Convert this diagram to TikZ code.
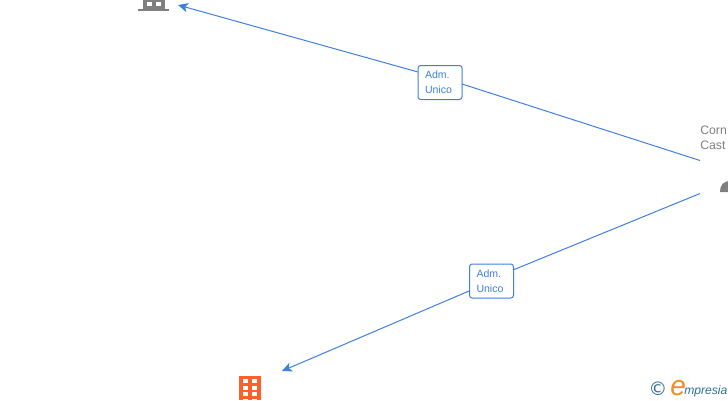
\documentclass[tikz,border=0pt]{standalone}
\usepackage{fontspec}
\setmainfont{Liberation Sans}
\newfontfamily\logofont{DejaVu Sans}
\usetikzlibrary{arrows.meta}
\definecolor{linkblue}{HTML}{3F7FE0}
\definecolor{icongray}{HTML}{7F7F7F}
\definecolor{iconorange}{HTML}{FF5F2B}
\definecolor{logoteal}{HTML}{2F6F8F}
\definecolor{logoorange}{HTML}{F58A1F}
\tikzset{
  x=0.75pt,y=-0.75pt,
  rolebox/.style={draw=linkblue,rounded corners=2pt,fill=white,line width=0.75pt,text=linkblue,
    font=\fontsize{7.9pt}{11.2pt}\selectfont,align=left,minimum width=33pt,minimum height=25.5pt,inner sep=0pt,
    text width=22.5pt},
  link/.style={draw=linkblue,line width=0.75pt},
  arrowed/.style={link,-{Stealth[length=7.5pt,width=7pt,inset=2pt]}},
  nametext/.style={text=icongray,font=\fontsize{9.2pt}{11.2pt}\selectfont,align=left,inner sep=0pt,anchor=north west},
}
\begin{document}
\begin{tikzpicture}
\useasboundingbox (0,0) rectangle (728,400);
\begin{scope}
\clip (0,0) rectangle (728,400);
% gray building
\fill[icongray] (138,8.5) rectangle (169,11);
\fill[icongray] (143,0) rectangle (165,8.5);
\fill[white] (147,1.5) rectangle (151.5,6);
\fill[white] (156,1.5) rectangle (161,6);
% orange building
\fill[iconorange] (239,376) rectangle (261,400);
\foreach \yy in {379,385.7,392.4,399}{
  \fill[white] (243,\yy) rectangle (247.5,\yy+4);
  \fill[white] (252,\yy) rectangle (257,\yy+4);
}
% person
\fill[icongray] (720,192) .. controls (720,185) and (723,181) .. (731,181) -- (732,192) -- cycle;
% name
\node[nametext] (name) at (700,125.5) {Corn\\Cast};
\end{scope}
\coordinate (topicon) at (178,5);
\coordinate (boticon) at (282,371);
\coordinate (srcA) at (700,160.5);
\coordinate (srcB) at (700,193.5);
\coordinate (inA) at (462,84);
\coordinate (outA) at (418,72);
\coordinate (inB) at (513,270);
\coordinate (outB) at (469,291);
\node[rolebox] (adm1) at (440,82.5) {Adm.\\Unico};
\node[rolebox] (adm2) at (491.5,281) {Adm.\\Unico};
\draw[link] (srcA) -- (inA);
\draw[arrowed] (outA) -- (topicon);
\draw[link] (srcB) -- (inB);
\draw[arrowed] (outB) -- (boticon);
% logo
\node[inner sep=0pt,text=logoteal,font=\logofont\fontsize{14pt}{14pt}\selectfont] (copy) at (658,389) {©};
\node[inner sep=0pt,anchor=base west,text=logoorange,font=\fontsize{21pt}{21pt}\selectfont\itshape] (elogo) at (670,395) {e};
\node[inner sep=0pt,anchor=base west,text=logoteal,font=\fontsize{9.1pt}{10pt}\selectfont\itshape] (mlogo) at (684,394) {mpresia};
\end{tikzpicture}
\end{document}
